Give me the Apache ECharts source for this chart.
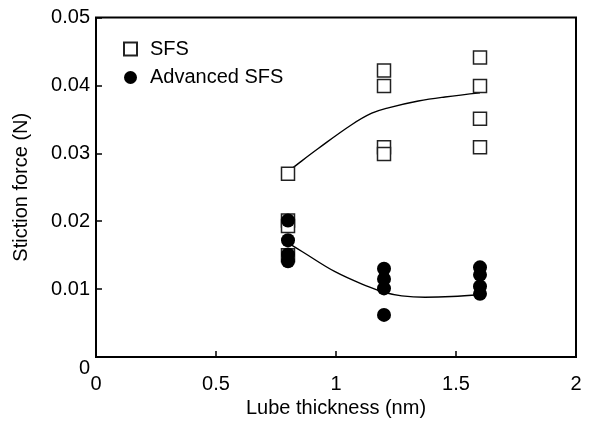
<!DOCTYPE html>
<html>
<head>
<meta charset="utf-8">
<script src="https://cdn.jsdelivr.net/npm/echarts@6/dist/echarts.min.js"></script>
<style>
  html, body { margin: 0; padding: 0; background: #fff; }
  #chart { width: 589px; height: 430px; }
</style>
</head>
<body>
<div id="chart"></div>
<script>
// Lube thickness positions (nm) and the measured stiction forces (N)
const sfsX = [0.8, 0.8, 0.8, 0.8, 1.2, 1.2, 1.2, 1.2, 1.6, 1.6, 1.6, 1.6]
const sfsY = [0.0270, 0.0201, 0.0193, 0.0150, 0.0422, 0.0399, 0.0309, 0.0299, 0.0441, 0.0399, 0.0351, 0.0309]
const advX = [0.8, 0.8, 0.8, 0.8, 1.2, 1.2, 1.2, 1.2, 1.6, 1.6, 1.6, 1.6]
const advY = [0.0201, 0.0172, 0.0151, 0.0141, 0.0130, 0.0115, 0.0101, 0.0062, 0.0132, 0.0121, 0.0104, 0.0093]

// trend curves
const sfsFitX = [0.8, 0.836, 0.926, 1.065, 1.149, 1.218, 1.343, 1.454, 1.6]
const sfsFitY = [0.0273, 0.0283, 0.0307, 0.0342, 0.0359, 0.0367, 0.0377, 0.0383, 0.0389]
const advFitX = [0.8, 0.86, 0.996, 1.135, 1.204, 1.274, 1.371, 1.482, 1.6]
const advFitY = [0.0168, 0.0155, 0.01256, 0.01035, 0.0095, 0.0090, 0.0088, 0.0089, 0.0092]

const xTicks = [0, 0.5, 1, 1.5, 2]
const yTicks = [0, 0.01, 0.02, 0.03, 0.04, 0.05]

const zip = (xs, ys) => xs.map((x, i) => [x, ys[i]])
const font = 'Liberation Sans, Arial, sans-serif'
const fs = 20

const chart = echarts.init(document.getElementById('chart'))
chart.setOption({
  animation: false,
  textStyle: { fontFamily: font },
  grid: {
    left: 96, right: 13, top: 17.5, bottom: 73,
    show: true, borderColor: '#000', borderWidth: 2, backgroundColor: 'transparent'
  },
  legend: {
    orient: 'vertical',
    left: 118, top: 34,
    itemWidth: 13, itemHeight: 13, itemGap: 8.5,
    data: ['SFS', 'Advanced SFS'],
    textStyle: { fontSize: fs, lineHeight: 20, color: '#000', fontFamily: font, padding: [0, 0, 0, 8] }
  },
  xAxis: {
    type: 'value',
    min: xTicks[0], max: xTicks[xTicks.length - 1], interval: 0.5,
    name: 'Lube thickness (nm)',
    nameLocation: 'middle', nameGap: 41,
    nameTextStyle: { fontSize: fs, color: '#000', fontFamily: font },
    axisLine: { show: false },
    axisTick: { show: true, inside: true, length: 6, lineStyle: { color: '#000', width: 1.5 } },
    axisLabel: { fontSize: fs, color: '#000', margin: 17, fontFamily: font },
    splitLine: { show: false }
  },
  yAxis: {
    type: 'value',
    min: yTicks[0], max: yTicks[yTicks.length - 1], interval: 0.01,
    name: 'Stiction force (N)',
    nameLocation: 'middle', nameGap: 65,
    nameTextStyle: { fontSize: fs, color: '#000', fontFamily: font },
    axisLine: { show: false },
    axisTick: { show: true, inside: true, length: 6, lineStyle: { color: '#000', width: 1.5 } },
    axisLabel: {
      fontSize: fs, color: '#000', margin: 6, fontFamily: font,
      formatter: v => v === 0 ? '{z|0}' : String(+v.toFixed(2)),
      rich: { z: { fontSize: fs, color: '#000', fontFamily: font, padding: [22, 0, 0, 0] } }
    },
    splitLine: { show: false }
  },
  series: [
    {
      name: 'SFS fit', type: 'line', data: zip(sfsFitX, sfsFitY),
      smooth: 0.4, showSymbol: false, z: 1,
      lineStyle: { color: '#000', width: 1.4 }
    },
    {
      name: 'Advanced SFS fit', type: 'line', data: zip(advFitX, advFitY),
      smooth: 0.4, showSymbol: false, z: 1,
      lineStyle: { color: '#000', width: 1.4 }
    },
    {
      name: 'SFS', type: 'scatter', data: zip(sfsX, sfsY),
      symbol: 'rect', symbolSize: 13, z: 3,
      itemStyle: { color: '#fff', borderColor: '#222', borderWidth: 1.5, opacity: 1 }
    },
    {
      name: 'Advanced SFS', type: 'scatter', data: zip(advX, advY),
      symbol: 'circle', symbolSize: 14, z: 4,
      itemStyle: { color: '#000', borderColor: '#000', borderWidth: 0, opacity: 1 }
    }
  ]
})
</script>
</body>
</html>
